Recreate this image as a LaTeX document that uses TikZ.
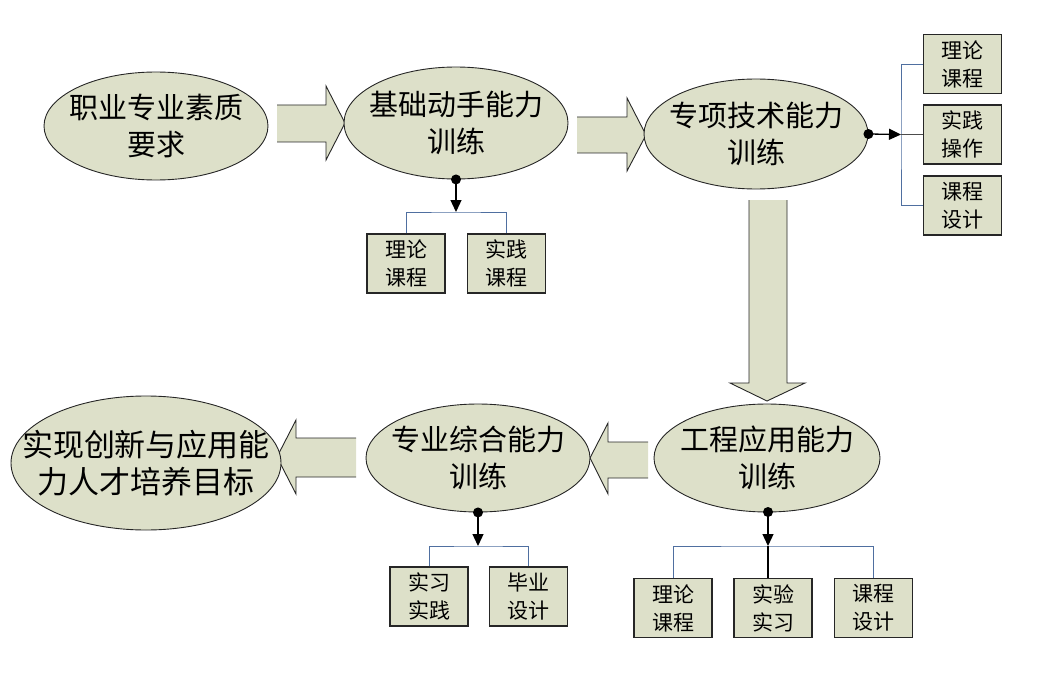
\documentclass[tikz,border=0pt]{standalone}
\usepackage{fontspec}
\setmainfont{Noto Sans CJK SC}
\usetikzlibrary{shapes.geometric,arrows.meta}
\definecolor{olivefill}{RGB}{221,224,201}
\definecolor{brkblue}{RGB}{79,111,160}
\begin{document}
\begin{tikzpicture}[x=1pt,y=-1pt,
 ell/.style={ellipse,draw=black!85,line width=0.9pt,fill=olivefill,inner sep=0pt},
 etxt/.style={inner sep=0pt,align=center,font=\fontsize{29}{37}\selectfont},
 box/.style={rectangle,draw=black!85,line width=1.1pt,fill=olivefill,inner sep=0pt,align=center,minimum width=78pt,minimum height=59pt,font=\fontsize{21}{28}\selectfont},
 blk/.style={fill=olivefill},
 blkline/.style={draw=black!85,line width=0.9pt,line join=miter},
 brk/.style={draw=brkblue,line width=0.9pt},
 conn/.style={-{Triangle[length=12pt,width=11pt]},line width=1.3pt},
 dotn/.style={circle,fill=black,inner sep=0pt,minimum size=10pt}]
\useasboundingbox (0,0) rectangle (1058,674);
% block arrows
\fill[blk] (277,105) -- (326,105) -- (326,86) -- (345,123) -- (326,160) -- (326,142) -- (277,142) -- cycle;
\draw[blkline] (277,105) -- (326,105) -- (326,86) -- (345,123) -- (326,160) -- (326,142) -- (277,142);
\fill[blk] (577,117) -- (627,117) -- (627,98) -- (646,135) -- (627,171) -- (627,153) -- (577,153) -- cycle;
\draw[blkline] (577,117) -- (627,117) -- (627,98) -- (646,135) -- (627,171) -- (627,153) -- (577,153);
\fill[blk] (749,200) -- (749,383) -- (730,383) -- (767,401) -- (805,383) -- (787,383) -- (787,200) -- cycle;
\draw[blkline] (749,200) -- (749,383) -- (730,383) -- (767,401) -- (805,383) -- (787,383) -- (787,200);
\fill[blk] (648,442) -- (608,442) -- (608,423) -- (590,458) -- (608,494) -- (608,478) -- (648,478) -- cycle;
\draw[blkline] (648,442) -- (608,442) -- (608,423) -- (590,458) -- (608,494) -- (608,478) -- (648,478);
\fill[blk] (356,438) -- (296,438) -- (296,420) -- (277,457) -- (296,494) -- (296,477) -- (356,477) -- cycle;
\draw[blkline] (356,438) -- (296,438) -- (296,420) -- (277,457) -- (296,494) -- (296,477) -- (356,477);
% ellipses
\node[ell,minimum width=224pt,minimum height=108pt] (e1) at (156,126) {};
\node[ell,minimum width=224pt,minimum height=112pt] (e2) at (456,123) {};
\node[ell,minimum width=224pt,minimum height=110pt] (e3) at (756,134) {};
\node[ell,minimum width=226pt,minimum height=108pt] (e4) at (767,458) {};
\node[ell,minimum width=224pt,minimum height=108pt] (e5) at (478,458) {};
\node[ell,minimum width=270pt,minimum height=134pt] (e6) at (146,463) {};
\node[etxt] (t1) at (e1.center) {职业专业素质\\要求};
\node[etxt] (t2) at (e2.center) {基础动手能力\\训练};
\node[etxt] (t3) at (e3.center) {专项技术能力\\训练};
\node[etxt] (t4) at (e4.center) {工程应用能力\\训练};
\node[etxt] (t5) at (e5.center) {专业综合能力\\训练};
\node[etxt,font=\fontsize{31}{37}\selectfont] (t6) at (e6.center) {实现创新与应用能\\力人才培养目标};
% boxes
\node[box] (b1) at (406,263.5) {理论\\课程};
\node[box] (b2) at (506.5,263.5) {实践\\课程};
\node[box] (r1) at (962.5,64) {理论\\课程};
\node[box] (r2) at (962.5,134.5) {实践\\操作};
\node[box] (r3) at (962.5,205.5) {课程\\设计};
\node[box] (c1) at (673,608) {理论\\课程};
\node[box] (c2) at (773,608) {实验\\实习};
\node[box] (c3) at (873.5,608) {课程\\设计};
\node[box] (d1) at (429,596.5) {实习\\实践};
\node[box] (d2) at (528.5,596.5) {毕业\\设计};
% connectors
\node[dotn] (p2) at (e2.south) {};
\node[dotn] (p3) at (e3.east) {};
\node[dotn] (p4) at (768,512) {};
\node[dotn] (p5) at (e5.south) {};
\coordinate (j2) at (456,212);
\coordinate (j3) at (901,134.5);
\coordinate (j4) at (768,546);
\coordinate (j5) at (478,546);
\draw[brk] (b1.north) |- (j2) -| (b2.north);
\draw[brk] (r1.west) -| (j3) |- (r3.west);
\draw[black!70,line width=0.9pt] (j3) -- (r2.west);
\draw[brk] (c1.north) |- (j4) -| (c3.north);
\draw[black,line width=1.1pt] (j4) -- (j4 |- c2.north);
\draw[brk] (d1.north) |- (j5) -| (d2.north);
\draw[conn] (p2.center) -- (j2);
\draw[conn] (p3.center) -- (j3);
\draw[conn] (p4.center) -- (j4);
\draw[conn] (p5.center) -- (j5);
\end{tikzpicture}
\end{document}
